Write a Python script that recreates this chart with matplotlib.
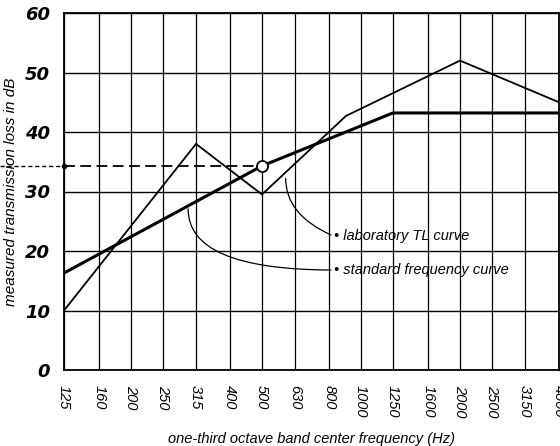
import matplotlib
matplotlib.use("Agg")
import matplotlib.pyplot as plt
import matplotlib.transforms as mtransforms
import numpy as np

# one-third octave bands shown on the axis
bands = [125, 160, 200, 250, 315, 400, 500, 630, 800, 1000, 1250, 1600, 2000, 2500, 3150, 4000]
band_labels = [str(b) for b in bands]
y_ticks = [0, 10, 20, 30, 40, 50, 60]

# laboratory transmission loss curve (Hz, dB)
lab_freq = [125, 315, 500, 900, 2000, 4000]
lab_tl = [10, 38, 29.5, 42.7, 52, 45]

# standard frequency (reference) curve (Hz, dB)
std_freq = [125, 500, 1250, 4000]
std_tl = [16.3, 34.3, 43.2, 43.2]

# rating read at 500 Hz
stc_freq = 500
stc_value = 34.3

hand = ["Liberation Sans", "DejaVu Sans"]

fig = plt.figure(figsize=(5.6, 4.46), dpi=100)
ax = fig.add_axes([64 / 560, 1 - 370 / 446, 495 / 560, 357 / 446])

ax.set_xscale("log", base=2)
ax.set_xlim(125, 4000)
ax.set_ylim(0, 60)
ax.set_xticks(bands)
ax.set_xticklabels(band_labels, rotation=270, fontstyle="italic", fontsize=10.5,
                   family=hand)
ax.minorticks_off()
ax.set_yticks(y_ticks)
ax.set_yticklabels([str(v) for v in y_ticks], fontstyle="italic", fontweight="bold",
                   fontsize=13, family=["DejaVu Sans"])
ax.tick_params(axis="both", length=0)
ax.tick_params(axis="x", pad=11)
ax.tick_params(axis="y", pad=10)

ax.grid(True, axis="x", color="black", lw=0.9)
ax.grid(True, axis="y", color="black", lw=1.0)
for sp in ax.spines.values():
    sp.set_color("black")
    sp.set_linewidth(1.3)

ax.plot(lab_freq, lab_tl, color="black", lw=1.3, zorder=3)
ax.plot(std_freq, std_tl, color="black", lw=2.2, zorder=3)

# dashed read-off line from the 500 Hz point to the axis
ax.plot([125, stc_freq], [stc_value, stc_value], color="black", lw=1.3,
        ls=(0, (6, 3)), zorder=3)
trans = mtransforms.blended_transform_factory(ax.transAxes, ax.transData)
ax.plot([-0.13, 0], [stc_value, stc_value], color="black", lw=1.0,
        ls=(0, (3, 2)), transform=trans, clip_on=False)
ax.plot([125], [stc_value], "o", color="black", ms=3, clip_on=False, zorder=4)
ax.plot([stc_freq], [stc_value], "o", mfc="white", mec="black", ms=8, mew=1.3, zorder=4)

# leaders to the curve names
def on_curve(f, xs, ys):
    return np.interp(np.log2(f), np.log2(xs), ys)

lab_pt = 590
ax.annotate("• laboratory TL curve", xy=(lab_pt, on_curve(lab_pt, lab_freq, lab_tl) - 1),
            xytext=(0.545, 0.375), textcoords="axes fraction", va="center",
            fontstyle="italic", fontsize=10.5, family=hand,
            arrowprops=dict(arrowstyle="-", color="black", lw=0.9,
                            shrinkA=0, shrinkB=0, relpos=(0.0, 0.5),
                            connectionstyle="angle3,angleA=157,angleB=90"))

std_pt = 298
ax.annotate("• standard frequency curve", xy=(std_pt, on_curve(std_pt, std_freq, std_tl) - 0.5),
            xytext=(0.545, 0.28), textcoords="axes fraction", va="center",
            fontstyle="italic", fontsize=10.5, family=hand,
            arrowprops=dict(arrowstyle="-", color="black", lw=0.9,
                            shrinkA=0, shrinkB=0, relpos=(0.0, 0.5),
                            connectionstyle="angle3,angleA=0,angleB=90"))

ax.set_xlabel("one-third octave band center frequency (Hz)", fontstyle="italic",
              fontsize=10.5, family=hand, labelpad=10)
ax.set_ylabel("measured transmission loss in dB", fontstyle="italic",
              fontsize=11, family=hand, labelpad=5)

fig.savefig("out.png", dpi=100)
